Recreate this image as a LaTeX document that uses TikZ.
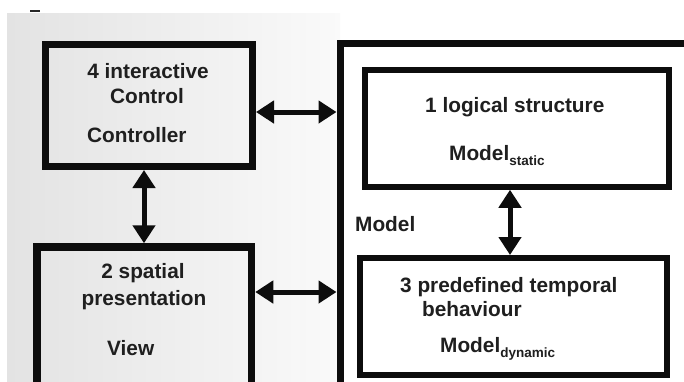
\documentclass[tikz,border=0pt]{standalone}
\usepackage{fontspec}
\setmainfont{Liberation Sans}
\usetikzlibrary{arrows.meta}
% lowered small index text, e.g. Model_static
\newcommand\idx[1]{{\fontsize{13.5bp}{14bp}\selectfont\raisebox{-5bp}{#1}}}
\begin{document}
\begin{tikzpicture}[x=1bp,y=-1bp,
  box/.style={draw=black!95, rectangle, inner sep=0pt},
  lbl/.style={inner sep=0pt, text=black!88, font=\fontsize{20.8bp}{24bp}\selectfont\bfseries},
  link/.style={line width=5bp, draw=black!95,
    {Triangle[length=18bp,width=22bp]}-{Triangle[length=18bp,width=22bp]}}]
\useasboundingbox (0,0) rectangle (684,381);
\clip (0,0) rectangle (684,381);
\fill[white] (0,0) rectangle (684,381);
% shaded panel behind the controller and the view
\shade[left color=black!11, right color=black!2] (7,13) rectangle (340,381);
\draw[line width=2.5bp, black!85] (30,11) -- (40,11);

% boxes
\node[box, line width=7bp, minimum width=207bp, minimum height=122bp] (ctrl) at (149,105.5) {};
\node[box, line width=7.5bp, minimum width=214.5bp, minimum height=153bp] (view) at (144.25,323.5) {};
\node[box, line width=7bp, minimum width=380bp, minimum height=376.5bp] (model) at (530,231.75) {};
\node[box, line width=5.5bp, fill=white, minimum width=304bp, minimum height=117bp] (logic) at (517,128.5) {};
\node[box, line width=6bp, fill=white, minimum width=307bp, minimum height=117bp] (temporal) at (513.5,316.5) {};

% texts
\node[lbl, anchor=base] (t4a) at (148,78) {4 interactive};
\node[lbl, anchor=base] (t4b) at (147,103) {Control};
\node[lbl, anchor=base west] (t4c) at (87,142) {Controller};
\node[lbl, anchor=base west] (t1a) at (425,112) {1 logical structure};
\node[lbl, anchor=base west] (t1b) at (449,160) {Model\idx{static}};
\node[lbl, anchor=base west] (tm) at (355,231) {Model};
\node[lbl, anchor=base west] (t3a) at (400,292) {3 predefined temporal};
\node[lbl, anchor=base west] (t3b) at (422,316) {behaviour};
\node[lbl, anchor=base west] (t3c) at (440,352) {Model\idx{dynamic}};
\node[lbl, anchor=base] (t2a) at (143,278) {2 spatial};
\node[lbl, anchor=base] (t2b) at (144,305) {presentation};
\node[lbl, anchor=base west] (t2c) at (107,355) {View};

% connector lines
\coordinate (r1) at (0,112);
\coordinate (r2) at (0,292);
\coordinate (c1) at (144,0);
\coordinate (c2) at (510,0);
\draw[link] (ctrl.east |- r1) -- (model.west |- r1);
\draw[link] (view.east |- r2) -- (model.west |- r2);
\draw[link] (ctrl.south -| c1) -- (view.north -| c1);
\draw[link] (logic.south -| c2) -- (temporal.north -| c2);
\end{tikzpicture}
\end{document}
